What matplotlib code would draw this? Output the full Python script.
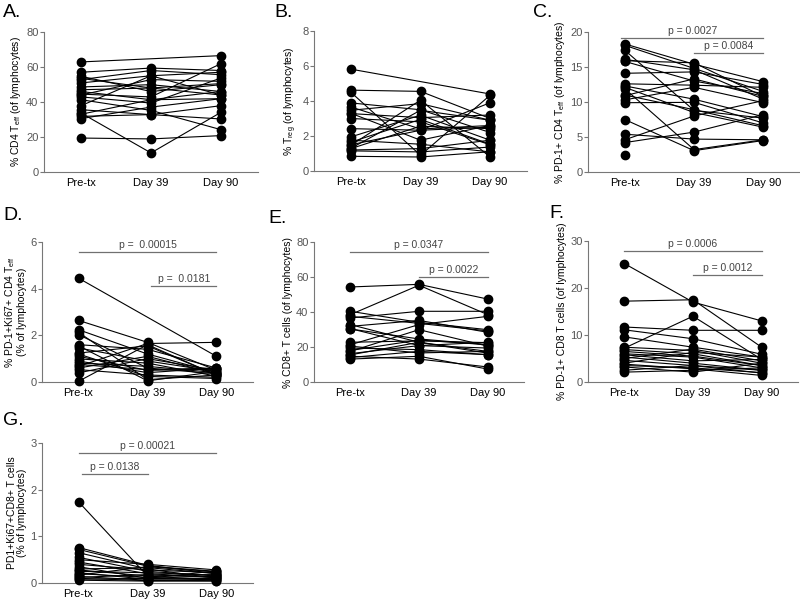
import numpy as np
import matplotlib
matplotlib.use("Agg")
import matplotlib.pyplot as plt

plt.rcParams['font.family'] = ['Liberation Sans', 'DejaVu Sans']

nan = np.nan
timepoints = ['Pre-tx', 'Day 39', 'Day 90']

# A. CD4 Teff
a_pre = [62.9, 57, 54.7, 52.8, 50.9, 48.6, 46, 44, 42.9, 41.3, 37.9, 35.6, 33.7, 31.8, 30.5, 19.4, 44.5, 53.5, 47, 33]
a_d39 = [nan, 59.4, 46, 58, 55, 49.9, 41.3, 52.8, 39.4, 35.2, 55, 32.8, 10.9, 32.8, 37.1, 18.9, 42.9, 48, 48, 41.3]
a_d90 = [66.5, 58, 49.9, 55.6, 44, 46, 41.9, 51.8, 53.7, 24.2, 57, 30.3, 34.1, 37.9, 41.9, 20.8, 61.9, 44, 50.5, 46]

# B. Treg
b_pre = [5.82, 4.62, 4.5, 3.89, 3.66, 3.47, 3.28, 3.0, 2.42, 1.95, 1.76, 1.47, 1.28, 1.15, 0.84, 1.3, 1.2, 1.5, 3.3, 1.65]
b_d39 = [nan, 4.55, 0.9, 3.5, 2.4, 3.85, 3.05, 2.81, 2.33, 3.19, 1.53, 4.05, 2.56, 1.09, 0.80, 3.47, 1.28, 2.33, 1.76, 2.95]
b_d90 = [4.4, 3.0, 4.33, 2.2, 2.6, 2.9, 3.2, 1.5, 2.5, 1.76, 1.09, 0.8, 2.42, 1.37, 1.1, 2.9, 1.76, 3.9, 2.61, 1.53]

# C. PD-1+ CD4 Teff
c_pre = [18.3, 18.1, 17.4, 16.1, 15.8, 14.1, 12.6, 12.1, 11.9, 10.9, 10.3, 9.9, 7.5, 5.4, 4.6, 4.2, 2.4, 15.9, 12.3, 11.0]
c_d39 = [15.4, 14.8, 8.8, 14.6, 13.0, 14.3, 12.4, 8.5, 3.2, 13.3, 12.1, 9.95, 3.05, 4.7, 8.0, 5.7, nan, 15.6, 10.4, 8.9]
c_d90 = [12.9, 11.5, 7.7, 10.4, 11.2, 12.5, 12.1, 6.4, 4.6, 10.8, 9.9, 7.0, 4.5, 4.6, 10.2, 8.2, nan, 10.8, 7.9, 6.6]

# D. PD-1+Ki67+ CD4 Teff
d_pre = [4.45, 2.64, 2.24, 2.13, 2.03, 1.6, 1.46, 1.24, 1.1, 0.99, 0.81, 0.67, 0.53, 0.39, 0.03, 0.9, 1.2, 0.6, 1.55, 0.75]
d_d39 = [nan, 1.7, 1.2, 0.1, 0.6, 1.4, 0.9, 1.55, 0.5, 0.81, 0.67, 1.65, 0.3, 1.0, 1.6, 0.4, 0.24, 1.1, 0.05, 0.53]
d_d90 = [1.1, 0.5, 0.4, 0.3, 0.35, 0.6, 0.45, 0.3, 0.55, 0.25, 0.4, 1.7, 0.2, 0.5, 0.3, 0.6, 0.15, 0.35, 0.45, 0.6]

# E. CD8+ T cells
e_pre = [54.3, 38.5, 40.4, 36.6, 32.8, 31.8, 30.3, 22.7, 21.3, 19.4, 17.5, 16.2, 14.7, 13.1, 15.5, 20.5, 30.5, 37.5, 18.0, 14.0]
e_d39 = [55.8, 55.3, 34.1, 40.4, 22.7, 35.2, 24.6, 23.5, 32.8, 18.5, 29.9, 20.8, 13.1, 14.7, 22.7, 16.6, 20.8, 33.5, 24.0, 17.5]
e_d90 = [47.4, 38.5, 29.9, 40.4, 17.5, 28.4, 21.3, 22.5, 37.5, 15.6, 20.5, 19.4, 8.6, 7.4, 16.5, 17.5, 22.7, 29.2, 21.3, 15.6]

# F. PD-1+ CD8 T cells
f_pre = [25.2, 17.2, 7.2, 11.7, 11.1, 9.6, 7.4, 6.9, 6.0, 5.3, 4.6, 3.8, 3.2, 2.5, 2.1, 5.0, 6.5, 4.0, 3.5, 5.8]
f_d39 = [17.0, 17.5, 14.0, 11.0, 9.2, 7.4, 6.7, 6.0, 5.3, 4.0, 3.5, 2.8, 2.1, 3.5, 2.5, 7.0, 5.5, 6.3, 3.0, 4.5]
f_d90 = [13.0, 7.4, 4.8, 11.0, 5.9, 5.3, 4.0, 3.5, 3.0, 2.5, 1.9, 1.4, 4.0, 2.5, 3.0, 4.5, 3.5, 5.3, 2.0, 4.8]

# G. PD1+Ki67+CD8+ T cells
g_pre = [1.74, 0.76, 0.72, 0.65, 0.55, 0.5, 0.45, 0.4, 0.35, 0.3, 0.28, 0.25, 0.22, 0.2, 0.17, 0.14, 0.12, 0.1, 0.08, 0.06]
g_d39 = [0.15, 0.38, 0.36, 0.3, 0.25, 0.4, 0.2, 0.28, 0.1, 0.33, 0.15, 0.22, 0.08, 0.12, 0.35, 0.06, 0.18, 0.05, 0.1, 0.04]
g_d90 = [0.18, 0.2, 0.25, 0.1, 0.15, 0.28, 0.12, 0.22, 0.08, 0.2, 0.06, 0.17, 0.1, 0.14, 0.24, 0.05, 0.12, 0.08, 0.26, 0.04]

W, H = 800, 599
fig = plt.figure(figsize=(W / 100, H / 100), dpi=100)


def make_axes(left, right, top, bottom):
    return fig.add_axes([left / W, 1 - bottom / H, (right - left) / W, (bottom - top) / H])


def panel(box, letter, letter_xy, data, ymax, ystep, ylabel, pvals=()):
    ax = make_axes(*box)
    pre, d39, d90 = [np.array(v, dtype=float) for v in data]
    x = np.arange(3)
    for i in range(len(pre)):
        y = np.array([pre[i], d39[i], d90[i]])
        ok = ~np.isnan(y)
        ax.plot(x[ok], y[ok], color='black', lw=0.8, marker='o', ms=6,
                mfc='black', mec='black', zorder=3, clip_on=False)
    ax.set_xlim(-0.53, 2.53)
    ax.set_ylim(0, ymax)
    ax.set_yticks(np.arange(0, ymax + ystep / 2, ystep))
    ax.set_xticks(x)
    ax.set_xticklabels(timepoints, fontsize=8, color='black')
    ax.tick_params(axis='y', labelsize=8, labelcolor='#555555', color='#777777',
                   length=3, width=0.8, pad=1)
    ax.tick_params(axis='x', length=0, pad=4)
    for s in ['top', 'right']:
        ax.spines[s].set_visible(False)
    for s in ['left', 'bottom']:
        ax.spines[s].set_color('#777777')
        ax.spines[s].set_linewidth(0.8)
    ax.set_ylabel(ylabel, fontsize=7.5, labelpad=2, linespacing=1.1)
    for x0, x1, yv, txt in pvals:
        ax.plot([x0, x1], [yv, yv], color='#707070', lw=0.9, clip_on=False)
        ax.text((x0 + x1) / 2, yv + ymax * 0.015, txt, ha='center', va='bottom',
                fontsize=7.5, color='#444444')
    fig.text(letter_xy[0] / W, 1 - letter_xy[1] / H, letter, fontsize=14,
             ha='left', va='top')
    return ax


panel((44, 258, 32, 172), 'A.', (3, 4), (a_pre, a_d39, a_d90), 80, 20,
      '% CD4 T$_{\\mathregular{eff}}$ (of lymphocytes)')
panel((314, 527, 31, 171), 'B.', (274, 4), (b_pre, b_d39, b_d90), 8, 2,
      '% T$_{\\mathregular{reg}}$ (of lymphocytes)')
panel((588, 800, 32, 172), 'C.', (533, 4), (c_pre, c_d39, c_d90), 20, 5,
      '% PD-1+ CD4 T$_{\\mathregular{eff}}$ (of lymphocytes)',
      [(-0.05, 2.0, 19.1, 'p = 0.0027'), (1.0, 2.0, 17.0, 'p = 0.0084')])
panel((42, 253, 242, 382), 'D.', (3, 207), (d_pre, d_d39, d_d90), 6, 2,
      '% PD-1+Ki67+ CD4 T$_{\\mathregular{eff}}$\n(% of lymphocytes)',
      [(0.0, 2.0, 5.57, 'p =  0.00015'), (1.05, 2.0, 4.11, 'p =  0.0181')])
panel((314, 524, 242, 382), 'E.', (268, 210), (e_pre, e_d39, e_d90), 80, 20,
      '% CD8+ T cells (of lymphocytes)',
      [(0.0, 2.0, 74.3, 'p = 0.0347'), (1.0, 2.0, 60.0, 'p = 0.0022')])
panel((588, 798, 241, 382), 'F.', (549, 205), (f_pre, f_d39, f_d90), 30, 10,
      '% PD-1+ CD8 T cells (of lymphocytes)',
      [(0.0, 2.0, 27.9, 'p = 0.0006'), (1.0, 2.0, 22.7, 'p = 0.0012')])
panel((42, 253, 443, 583), 'G.', (3, 412), (g_pre, g_d39, g_d90), 3, 1,
      'PD1+Ki67+CD8+ T cells\n(% of lymphocytes)',
      [(0.0, 2.0, 2.79, 'p = 0.00021'), (0.05, 1.0, 2.34, 'p = 0.0138')])

fig.savefig('out.png', dpi=100)
